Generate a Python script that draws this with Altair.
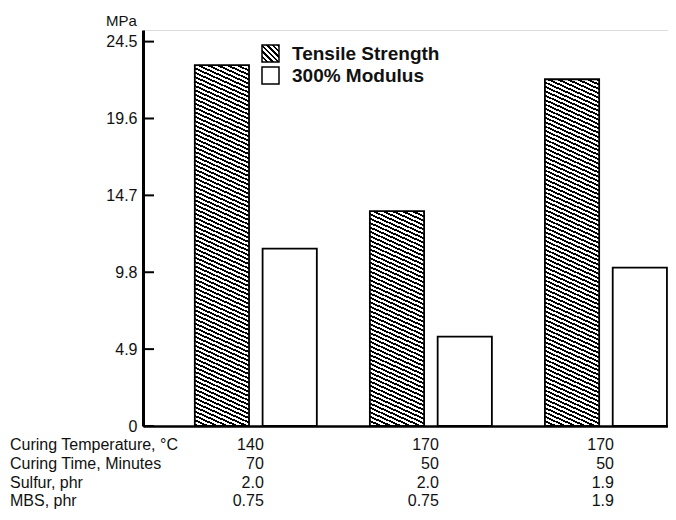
import altair as alt
import pandas as pd

# ---------------- data ----------------
groups = ["G1", "G2", "G3"]
series_names = ["Tensile Strength", "300% Modulus"]
tensile = [23.0, 13.7, 22.1]
modulus = [11.3, 5.7, 10.1]
y_ticks = [0, 4.9, 9.8, 14.7, 19.6, 24.5]
row_labels = ["Curing Temperature, °C", "Curing Time, Minutes", "Sulfur, phr", "MBS, phr"]
temperature = ["140", "170", "170"]
cure_time = ["70", "50", "50"]
sulfur = ["2.0", "2.0", "1.9"]
mbs = ["0.75", "0.75", "1.9"]
row_values = [temperature, cure_time, sulfur, mbs]

# ---------------- layout ----------------
PLOT_W, PLOT_H = 525, 396
Y_MAX = 25.24
PX = PLOT_H / Y_MAX
BAR_W = 54
FONT = "Liberation Sans"


def hatch(h, w, slope, period, frac=0.45):
    """Diagonal '\\' stripes as a hard-stop linear gradient (bbox units)."""
    a = slope * w / h
    k = 0.5 * (1 + a) / (1 + a * a)
    n = h * (1 + a) / period
    stops = []
    i = 0
    while i / n < 1:
        o0 = i / n
        o1 = min(1.0, (i + frac) / n)
        o2 = min(1.0, (i + 1) / n)
        stops += [
            {"offset": o0, "color": "black"},
            {"offset": o1, "color": "black"},
            {"offset": o1, "color": "white"},
            {"offset": o2, "color": "white"},
        ]
        i += 1
    return {
        "gradient": "linear",
        "x1": 0.5 + k * a, "y1": 0.5 - k,
        "x2": 0.5 - k * a, "y2": 0.5 + k,
        "stops": stops,
    }


bars_df = pd.DataFrame({
    "group": groups * 2,
    "series": [series_names[0]] * len(groups) + [series_names[1]] * len(groups),
    "value": tensile + modulus,
})

conds = []
for g, v in zip(groups, tensile):
    conds.append({
        "test": f"datum.group === '{g}' && datum.series === '{series_names[0]}'",
        "value": hatch(v * PX, BAR_W, 0.45, 4.4),
    })

y_axis = alt.Axis(
    values=y_ticks, ticks=False, tickSize=0, grid=False,
    labelExpr="datum.value == 0 ? '0' : format(datum.value, '.1f')",
    labelFont=FONT, labelFontSize=16, labelColor="#111", labelPadding=6,
    domainColor="black", domainWidth=3,
    title="MPa", titleAngle=0, titleX=-22, titleY=-10, titleAlign="center",
    titleBaseline="middle", titleFont=FONT, titleFontSize=15,
    titleFontWeight="normal", titleColor="#111",
)
y_scale = alt.Scale(domain=[0, Y_MAX], nice=False, zero=True)
x_axis = alt.Axis(labels=False, ticks=False, title=None, grid=False,
                  domainColor="black", domainWidth=2.5)
x_scale = alt.Scale(paddingInner=0.303, paddingOuter=0.151, align=0.98)


def xenc():
    return alt.X("group:N", sort=groups, scale=x_scale, axis=x_axis)


def yenc(field):
    return alt.Y(f"{field}:Q", scale=y_scale, axis=y_axis)


bars = alt.Chart(bars_df).mark_bar(stroke="black", strokeWidth=1.8).encode(
    x=xenc(),
    xOffset=alt.XOffset("series:N", sort=series_names,
                        scale=alt.Scale(paddingInner=0.2)),
    y=yenc("value"),
    fill=alt.value("white", condition=conds),
)

ticks = alt.Chart(pd.DataFrame({"value": y_ticks})).mark_rule(
    color="black", strokeWidth=2
).encode(y=yenc("value"), x=alt.value(0), x2=alt.value(11))

# legend (manual, to allow hatched swatch)
leg_layers = []
leg_fills = [hatch(17, 17, 1.0, 5.5), "white"]
leg_y = [15, 37]
for name, fill, y0 in zip(series_names, leg_fills, leg_y):
    d = pd.DataFrame({"series": [name]})
    leg_layers.append(
        alt.Chart(d).mark_rect(stroke="black", strokeWidth=1.5, fill=fill).encode(
            x=alt.value(119), x2=alt.value(136), y=alt.value(y0), y2=alt.value(y0 + 17)
        )
    )
    leg_layers.append(
        alt.Chart(d).mark_text(align="left", baseline="middle", font=FONT,
                               fontSize=19, fontWeight="bold", color="#111").encode(
            x=alt.value(149), y=alt.value(y0 + 9), text="series:N"
        )
    )

# table under the chart
row_y = [415, 434, 453, 471]
table_layers = []
for lab, vals, ry in zip(row_labels, row_values, row_y):
    table_layers.append(
        alt.Chart(pd.DataFrame({"label": [lab]})).mark_text(
            align="left", baseline="middle", font=FONT, fontSize=16, color="#111"
        ).encode(x=alt.value(-133), y=alt.value(ry), text="label:N")
    )
    table_layers.append(
        alt.Chart(pd.DataFrame({"group": groups, "txt": vals})).mark_text(
            align="right", baseline="middle", dx=8, font=FONT, fontSize=16, color="#111"
        ).encode(x=xenc(), y=alt.value(ry), text="txt:N")
    )

chart = alt.layer(bars, ticks, *leg_layers, *table_layers).properties(
    width=PLOT_W, height=PLOT_H,
    padding={"left": 135, "top": 22, "right": 0, "bottom": 86},
    autosize=alt.AutoSizeParams(type="none"),
).configure_view(stroke=None).configure(font=FONT, background="white")

chart.save("out.html", embed_options={"renderer": "svg", "actions": False})
